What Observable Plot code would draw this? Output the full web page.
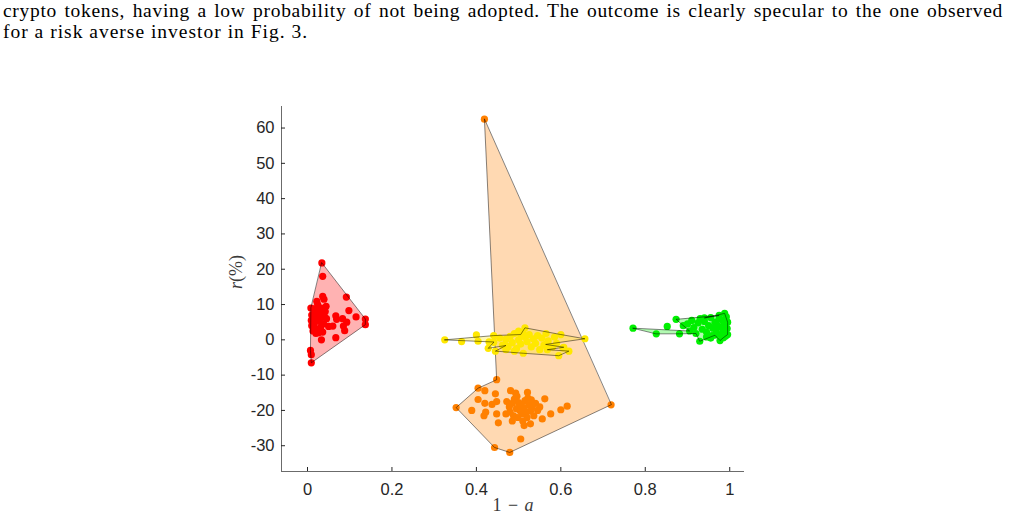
<!DOCTYPE html>
<html><head><meta charset="utf-8">
<script src="https://cdn.jsdelivr.net/npm/d3@7"></script>
<script src="https://cdn.jsdelivr.net/npm/@observablehq/plot@0.6"></script>
<style>
body{margin:0;background:#fff;overflow:hidden;}
#text{height:60px;font-family:"Liberation Serif","Times New Roman",serif;font-size:19.5px;line-height:21px;color:#000;padding-left:3px;width:1000px;}
#l1{text-align:justify;text-align-last:justify;letter-spacing:0.7px;}
#l2{letter-spacing:1px;}
#chart svg{display:block;}
</style>
</head><body>
<div id="text"><div id="l1">crypto tokens, having a low probability of not being adopted. The outcome is clearly specular to the one observed</div><div id="l2">for a risk averse investor in Fig. 3.</div></div>
<div id="chart"></div>
<script>
const xDomain = [-0.0616, 1.035];
const yDomain = [-37.3, 66.1];
const xTicks = [0, 0.2, 0.4, 0.6, 0.8, 1];
const xTickLabels = ["0", "0.2", "0.4", "0.6", "0.8", "1"];
const yTicks = [-30, -20, -10, 0, 10, 20, 30, 40, 50, 60];
const yTickLabels = ["-30", "-20", "-10", "0", "10", "20", "30", "40", "50", "60"];
const xLabel = "1 − a";
const yLabel = "r(%)";

const redPts = [[0.034,21.8],[0.036,18.0],[0.036,12.3],[0.039,11.5],[0.022,10.9],[0.092,12.1],[0.098,8.3],[0.115,6.5],[0.137,5.9],[0.137,4.3],[0.067,6.8],[0.069,5.8],[0.083,6.0],[0.093,5.0],[0.085,3.9],[0.088,2.6],[0.060,3.9],[0.050,3.8],[0.040,6.6],[0.033,0.0],[0.067,0.6],[0.007,-3.0],[0.009,-4.2],[0.009,-6.5],
 [0.008,9.0],[0.010,7.0],[0.009,5.5],[0.010,4.0],[0.015,8.8],[0.018,7.5],[0.020,6.0],[0.016,4.5],[0.022,3.0],[0.025,8.2],[0.028,6.8],[0.030,5.2],[0.026,2.0],[0.032,9.0],[0.035,7.5],[0.038,4.5],[0.042,8.0],[0.045,6.0],[0.031,3.5],[0.020,1.8],[0.013,2.5],[0.036,2.2],[0.044,9.5],[0.024,10.0]];
const redHull = [[0.034,21.8],[0.137,5.9],[0.137,4.3],[0.009,-6.5],[0.007,-3.0],[0.008,9.0]];

const orangePts = [[0.419,62.5],[0.448,-11.3],[0.404,-13.7],[0.352,-19.2],[0.443,-30.5],[0.479,-31.9],[0.719,-18.4],
 [0.420,-14.4],[0.445,-15.3],[0.404,-16.9],[0.389,-20.0],[0.420,-18.0],[0.422,-20.5],[0.418,-21.5],[0.437,-18.3],[0.448,-17.5],[0.448,-21.0],[0.452,-23.5],[0.481,-14.4],[0.493,-15.1],[0.521,-14.9],[0.522,-16.5],[0.562,-16.7],[0.505,-28.1],[0.600,-19.8],[0.615,-18.8],[0.576,-21.0],[0.556,-22.4],[0.528,-23.8],[0.513,-24.3],
 [0.472,-17.5],[0.478,-19.0],[0.480,-20.5],[0.485,-18.0],[0.488,-21.5],[0.490,-16.8],[0.495,-19.5],[0.498,-22.0],[0.500,-17.8],[0.503,-20.0],[0.506,-18.5],[0.508,-21.0],[0.510,-23.0],[0.512,-19.2],[0.515,-17.2],[0.518,-20.5],[0.520,-22.0],[0.524,-18.5],[0.528,-20.2],[0.532,-19.0],[0.536,-21.5],[0.540,-18.0],[0.545,-20.0],[0.550,-19.0],[0.485,-23.0],[0.470,-21.0],[0.496,-16.0],[0.530,-17.0]];
const orangeHull = [[0.419,62.5],[0.448,-11.3],[0.404,-13.7],[0.352,-19.2],[0.443,-30.5],[0.479,-31.9],[0.719,-18.4]];

const yellowPts = [[0.325,0.0],[0.365,-0.5],[0.400,1.4],[0.404,-0.4],[0.428,-2.4],[0.430,-0.6],[0.445,-3.2],[0.441,1.2],[0.515,3.4],[0.600,1.5],[0.657,0.3],[0.619,-3.2],[0.595,-4.5],[0.511,-3.8],[0.505,1.5],
 [0.564,-1.3],[0.607,-2.1],[0.568,-2.8],[0.470,-1.6],[0.441,-0.7],
 [0.455,0.5],[0.462,-1.5],[0.470,0.2],[0.475,-2.0],[0.480,1.0],[0.485,-0.8],[0.490,1.8],[0.495,-2.5],[0.500,0.0],[0.505,-1.2],[0.510,2.2],[0.515,0.8],[0.520,-0.5],[0.525,1.5],[0.530,-2.0],[0.535,0.3],[0.540,-1.0],[0.545,1.2],[0.550,-2.8],[0.555,0.5],[0.560,-1.5],[0.565,1.8],[0.570,-0.3],[0.580,-2.0],[0.585,0.8],[0.590,-1.0],[0.605,-2.3],[0.500,2.5],[0.490,-3.2],[0.470,-2.8]];
const yellowHull = [[0.325,0.0],[0.441,1.2],[0.505,1.5],[0.515,3.4],[0.600,1.5],[0.657,0.3],[0.564,-1.3],[0.607,-2.1],[0.568,-2.8],[0.619,-3.2],[0.595,-4.5],[0.511,-3.8],[0.445,-3.2],[0.470,-1.6],[0.428,-2.4],[0.441,-0.7]];

const greenPts = [[0.771,3.3],[0.826,1.7],[0.852,3.8],[0.873,5.8],[0.881,1.7],[0.929,-0.4],[0.977,-0.2],[0.988,7.5],
 [0.975,6.9],[0.940,6.2],[0.995,1.5],[0.965,1.3],
 [0.900,4.5],[0.905,2.5],[0.910,5.5],[0.915,3.5],[0.920,1.8],[0.925,4.8],[0.930,6.0],[0.935,3.0],[0.940,5.2],[0.945,2.2],[0.950,4.0],[0.955,6.3],[0.958,1.2],[0.960,3.3],[0.965,5.0],[0.968,2.5],[0.970,4.2],[0.975,6.0],[0.978,1.5],[0.980,3.6],[0.983,5.5],[0.985,2.8],[0.988,4.5],[0.990,1.0],[0.992,6.5],[0.994,3.2],[0.995,5.0],[0.945,0.8],[0.890,4.0],[0.955,0.5],[0.985,0.6]];
const greenHull = [[0.771,3.3],[0.905,2.5],[0.873,5.8],[0.975,6.9],[0.940,6.2],[0.988,7.5],[0.995,5.0],[0.995,1.5],[0.985,0.6],[0.977,-0.2],[0.965,1.3],[0.929,-0.4],[0.920,1.8],[0.881,1.7],[0.826,1.7]];

const groupColors = ["#FF0000", "#FF8000", "#FFE800", "#00F000"];
const groupPts = [redPts, orangePts, yellowPts, greenPts];
const groupHulls = [redHull, orangeHull, yellowHull, greenHull];

const marks = [];
groupPts.forEach((pts, i) => {
  marks.push(Plot.dot(pts, {x: d => d[0], y: d => d[1], r: 3.6, fill: groupColors[i], stroke: "none"}));
  marks.push(Plot.line(groupHulls[i], {x: d => d[0], y: d => d[1], curve: "linear-closed", fill: groupColors[i], fillOpacity: 0.3, stroke: "#000", strokeWidth: 0.6, strokeOpacity: 0.8}));
});

const chart = Plot.plot({
  width: 1009, height: 461,
  marginTop: 46, marginBottom: 50, marginLeft: 281, marginRight: 265,
  x: {domain: xDomain},
  y: {domain: yDomain},
  style: {fontFamily: "'Liberation Sans', Arial, sans-serif", fontSize: "16px", color: "#262626", background: "#fff"},
  marks: [
    ...marks,
    Plot.ruleY([yDomain[0]], {stroke: "#6b6b6b"}),
    Plot.ruleX([xDomain[0]], {stroke: "#6b6b6b"}),
    Plot.axisX(xTicks, {tickSize: -4, tickPadding: 16, fontSize: 16.5, tickFormat: d => xTickLabels[xTicks.indexOf(d)], label: null}),
    Plot.axisY(yTicks, {tickSize: -4, tickPadding: 11, fontSize: 16.5, tickFormat: d => yTickLabels[yTicks.indexOf(d)], label: null}),
    Plot.text([yLabel], {text: d => d, frameAnchor: "left", dx: -45, rotate: -90, fontFamily: "'Liberation Serif', serif", fontSize: 18, fill: "#3a3a3a"}),
    Plot.text([xLabel], {text: d => d, frameAnchor: "bottom", dy: 39, fontFamily: "'Liberation Serif', serif", fontSize: 18, fill: "#3a3a3a"})
  ]
});
document.getElementById("chart").appendChild(chart);
d3.select(chart).selectAll("text").each(function() {
  if (this.textContent === yLabel) {
    this.innerHTML = '<tspan font-style="italic">r</tspan>(%)';
  } else if (this.textContent === xLabel) {
    this.innerHTML = '1 <tspan dx="2">−</tspan> <tspan dx="2" font-style="italic">a</tspan>';
  }
});
</script>
</body></html>
